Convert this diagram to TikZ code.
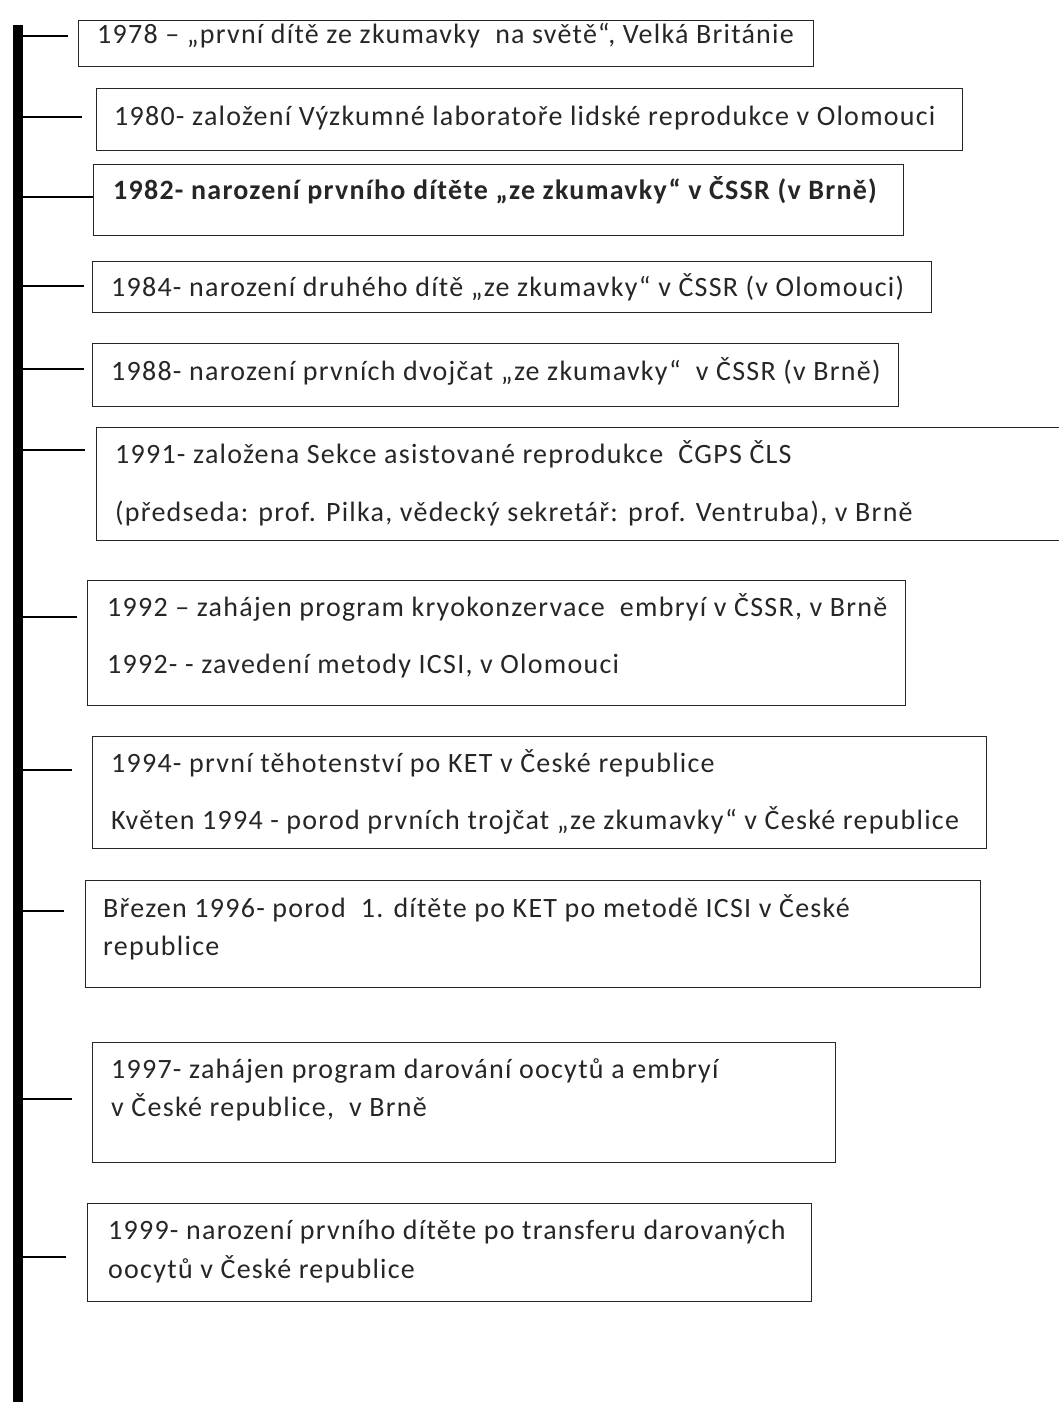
\documentclass[tikz,border=0pt]{standalone}
\usepackage{fontspec}
\setmainfont{Carlito}[LetterSpace=4.5]
\usetikzlibrary{positioning}

\begin{document}
\begin{tikzpicture}[x=1pt, y=-1pt,
    evBox/.style={draw=black!85, line width=1.3pt, rectangle, anchor=north west, inner sep=0pt},
    evText/.style={anchor=base west, inner sep=0pt, font=\fontsize{28}{32}\selectfont, text=black!85},
    tick/.style={draw=black, line width=1.3pt},
]
\useasboundingbox (0,0) rectangle (1059,1402);
% timeline axis
\node[fill=black, minimum width=10pt, minimum height=1390pt, inner sep=0pt, anchor=north] (axis) at (18,25) {};

% event boxes
\node[evBox, minimum width=735pt, minimum height=46pt]  (b1)  at (78,20) {};
\node[evBox, minimum width=866pt, minimum height=62pt]  (b2)  at (96,88) {};
\node[evBox, minimum width=810pt, minimum height=71pt]  (b3)  at (93,164) {};
\node[evBox, minimum width=839pt, minimum height=51pt]  (b4)  at (92,261) {};
\node[evBox, minimum width=806pt, minimum height=63pt]  (b5)  at (92,343) {};
\node[evBox, minimum width=990pt, minimum height=113pt] (b6)  at (96,427) {};
\node[evBox, minimum width=818pt, minimum height=125pt] (b7)  at (87,580) {};
\node[evBox, minimum width=894pt, minimum height=112pt] (b8)  at (92,736) {};
\node[evBox, minimum width=895pt, minimum height=107pt] (b9)  at (85,880) {};
\node[evBox, minimum width=743pt, minimum height=120pt] (b10) at (92,1042) {};
\node[evBox, minimum width=724pt, minimum height=98pt]  (b11) at (87,1203) {};

% texts
\node[evText] (l1)  at (97,44)   {1978 – „první dítě ze zkumavky\ \ na světě“, Velká Británie};
\node[evText] (l2)  at (114,125) {1980- založení Výzkumné laboratoře lidské reprodukce v Olomouci};
\node[evText, font=\fontsize{28}{32}\selectfont\bfseries] (l3) at (113,199) {1982- narození prvního dítěte „ze zkumavky“ v ČSSR (v Brně)};
\node[evText] (l4)  at (111,296) {1984- narození druhého dítě „ze zkumavky“ v ČSSR (v Olomouci)};
\node[evText] (l5)  at (111,380) {1988- narození prvních dvojčat „ze zkumavky“\ \ v ČSSR (v Brně)};
\node[evText] (l6a) at (115,463) {1991- založena Sekce asistované reprodukce\ \ ČGPS ČLS};
\node[evText] (l6b) at (115,521) {(předseda: prof. Pilka, vědecký sekretář: prof. Ventruba), v Brně};
\node[evText] (l7a) at (107,616) {1992 – zahájen program kryokonzervace\ \ embryí v ČSSR, v Brně};
\node[evText] (l7b) at (107,673) {1992- - zavedení metody ICSI, v Olomouci};
\node[evText] (l8a) at (111,772) {1994- první těhotenství po KET v České republice};
\node[evText] (l8b) at (111,829) {Květen 1994 - porod prvních trojčat „ze zkumavky“ v České republice};
\node[evText] (l9a) at (103,917) {Březen 1996- porod\ \ 1. dítěte po KET po metodě ICSI v České};
\node[evText] (l9b) at (103,955) {republice};
\node[evText] (l10a) at (111,1078) {1997- zahájen program darování oocytů a embryí};
\node[evText] (l10b) at (111,1116) {v České republice,\ \ v Brně};
\node[evText] (l11a) at (108,1239) {1999- narození prvního dítěte po transferu darovaných};
\node[evText] (l11b) at (108,1278) {oocytů v České republice};

% tick ends
\coordinate (t1)  at (68,36);
\coordinate (t2)  at (82,117);
\coordinate (t3)  at (93,197);
\coordinate (t4)  at (84,286);
\coordinate (t5)  at (84,369);
\coordinate (t6)  at (85,450);
\coordinate (t7)  at (77,617);
\coordinate (t8)  at (72,770);
\coordinate (t9)  at (64,911);
\coordinate (t10) at (72,1099);
\coordinate (t11) at (66,1257);
\foreach \n in {1,...,11}
    \draw[tick] (axis.east |- t\n) -- (t\n);
\end{tikzpicture}
\end{document}
